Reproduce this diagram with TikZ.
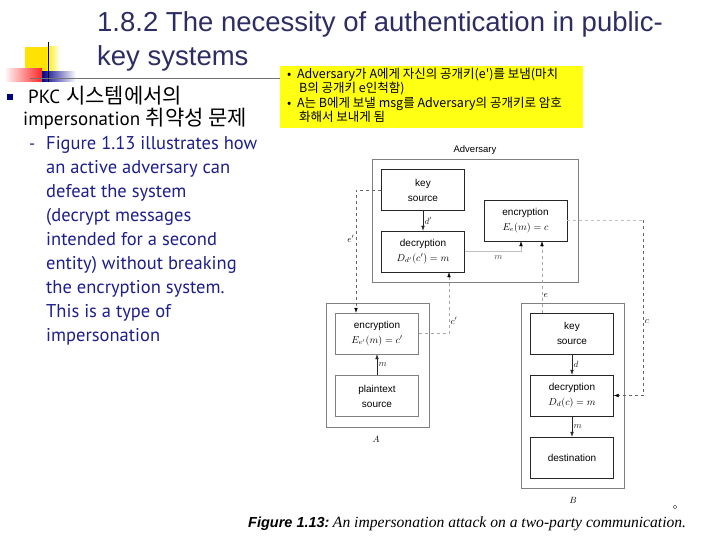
\documentclass[tikz,border=0pt]{standalone}
\usepackage{fontspec}
\usepackage{amsmath}
\usetikzlibrary{arrows.meta,calc}

\newfontfamily\headfont{Liberation Sans}
\newfontfamily\krfont{Noto Sans CJK KR}
\newfontfamily\bodyfont{PT Sans}
\newfontfamily\capfont{Liberation Serif}

\definecolor{titleblue}{RGB}{45,45,100}
\definecolor{textblue}{RGB}{30,30,140}
\definecolor{notebg}{RGB}{255,255,20}

\tikzset{
  blk/.style={draw=black!85, minimum width=83pt, minimum height=41pt,
    align=center, inner sep=1pt, font=\headfont\fontsize{10}{15}\selectfont},
  party/.style={draw=black!50, inner sep=0pt},
  lbl/.style={font=\fontsize{9}{10}\selectfont, inner sep=1.5pt},
  link/.style={-{Latex[length=5pt,width=3.5pt]}, black!85},
  keyline/.style={dashed, black!60, -{Latex[length=5pt,width=3.5pt,black]}},
  faint/.style={dashed, black!25}
}

\begin{document}
\begin{tikzpicture}[x=1pt,y=-1pt,>=Latex]
\useasboundingbox (0,0) rectangle (720,540);

% Slide decoration
\fill[yellow!85!orange] (25,47) rectangle (47,72);
\shade[left color=yellow!85!orange, right color=white] (47,47) rectangle (60,72);
\shade[left color=red!5, right color=red!85] (6,69) rectangle (42,82);
\shade[left color=blue!55!black, right color=white] (42,72) rectangle (76,82);
\draw[black] (48,42) -- (48,82);
\draw[black!55] (30,78) -- (283,78);

% Title
\node[anchor=west, inner sep=0pt, text=titleblue, font=\headfont\fontsize{27.5}{30}\selectfont]
  (title1) at (97,24) {1.8.2 The necessity of authentication in public-};
\node[anchor=west, inner sep=0pt, text=titleblue, font=\headfont\fontsize{27.5}{30}\selectfont]
  (title2) at (97,58) {key systems};

% Left text
\fill[blue!50!black] (7,94) rectangle (13,100);
\node[anchor=base west, inner sep=0pt, font=\fontsize{19}{22}\selectfont]
  (pkc) at (28,104) {{\bodyfont PKC} {\krfont\fontsize{21}{22}\selectfont 시스템에서의}};
\node[anchor=base west, inner sep=0pt, font=\fontsize{19}{22}\selectfont]
  (imp) at (23,126) {{\bodyfont impersonation} {\krfont\fontsize{21}{22}\selectfont 취약성 문제}};
\node[anchor=base west, inner sep=0pt, text=textblue, font=\bodyfont\fontsize{17}{22}\selectfont]
  (dash) at (29,150) {-};
\node[anchor=north west, inner sep=0pt, align=left, text=textblue,
  font=\bodyfont\fontsize{18.5}{24}\selectfont] (fig) at (46,136)
  {Figure 1.13 illustrates how\\
   an active adversary can\\
   defeat the system\\
   (decrypt messages\\
   intended for a second\\
   entity) without breaking\\
   the encryption system.\\
   This is a type of\\
   impersonation};

% Note
\node[fill=notebg, minimum width=303, minimum height=62, anchor=north west] (note) at (280,66) {};
\node[anchor=north west, inner sep=0pt, align=left, font=\krfont\fontsize{12.5}{14.3}\selectfont]
  (notetext) at (287,68)
  {•\hspace{0.45em}Adversary가 A에게 자신의 공개키(e')를 보냄(마치\\
   \hspace*{0.95em}B의 공개키 e인척함)\\
   •\hspace{0.45em}A는 B에게 보낼 msg를 Adversary의 공개키로 암호\\
   \hspace*{0.95em}화해서 보내게 됨};

% Adversary
\node[blk] (advkey) at (423,190) {key\\source};
\node[blk] (advdec) at (423,251.5) {decryption\\$D_{d'}(c')=m$};
\node[blk] (advenc) at (525.5,220.5) {encryption\\$E_e(m)=c$};
\node[party, minimum width=206, minimum height=123] (adv) at (475,220.5) {};
\node[lbl, anchor=south, font=\headfont\fontsize{9.5}{10}\selectfont] (advlbl)
  at ([yshift=3pt]adv.north) {Adversary};

% Party A
\node[blk, draw=black!50] (encA) at (377,333.5) {encryption\\$E_{e'}(m)=c'$};
\node[blk, draw=black!50] (plainA) at (377,396) {plaintext\\source};
\node[party, minimum width=103, minimum height=124] (partyA) at (377.5,365) {};
\node[lbl] (lblA) at (376,439) {$A$};

% Party B
\node[blk] (keyB) at (572,333.5) {key\\source};
\node[blk] (decB) at (572,395.5) {decryption\\$D_d(c)=m$};
\node[blk] (dest) at (572,457.5) {destination};
\node[party, minimum width=103, minimum height=185] (partyB) at (572.5,395.5) {};
\node[lbl] (lblB) at (573,500) {$B$};

% Arrows inside the parties
\draw[link] (advkey) -- node[lbl, right] {$d'$} (advdec);
\draw[link] (plainA) -- node[lbl, right] {$m$} (encA);
\draw[link] (keyB) -- node[lbl, right] {$d$} (decB);
\draw[link] (decB) -- node[lbl, right] {$m$} (dest);
\draw[faint, solid, -{Latex[length=5pt,width=3.5pt,black]}]
  (advdec.east) -| node[lbl, pos=0.3, below=2pt, black!70] {$m$} ([xshift=-4.5pt]advenc.south);

% Key and cipher channels
\draw[keyline] (advkey.west) -| node[lbl, pos=0.7, left, black] {$e'$} ([xshift=-21pt]encA.north);
\draw[keyline, black!35] (encA.east) -| node[lbl, pos=0.6, right, black] {$c'$}
  ([xshift=26pt]advdec.south);
\draw[keyline, black!35] ([xshift=-30pt]keyB.north) -- node[lbl, pos=0.24, right, black] {$e$}
  ([xshift=16.5pt]advenc.south);
\coordinate (ctop) at ($(advenc.east)+(76,0)$);
\draw[faint] (advenc.east) -- (ctop);
\draw[keyline] (ctop) |- node[lbl, pos=0.29, right, black] {$c$} (decB.east);

% Caption
\node[anchor=base west, inner sep=0pt, font=\headfont\bfseries\itshape\fontsize{14.5}{16}\selectfont]
  (capnum) at (248,527) {Figure 1.13:};
\node[anchor=base west, inner sep=0pt, font=\capfont\itshape\fontsize{15.6}{16}\selectfont]
  (captext) at ([xshift=3pt]capnum.base east) {An impersonation attack on a two-party communication.};
\draw[black!80] (675,507) circle (1.8);

\end{tikzpicture}
\end{document}
